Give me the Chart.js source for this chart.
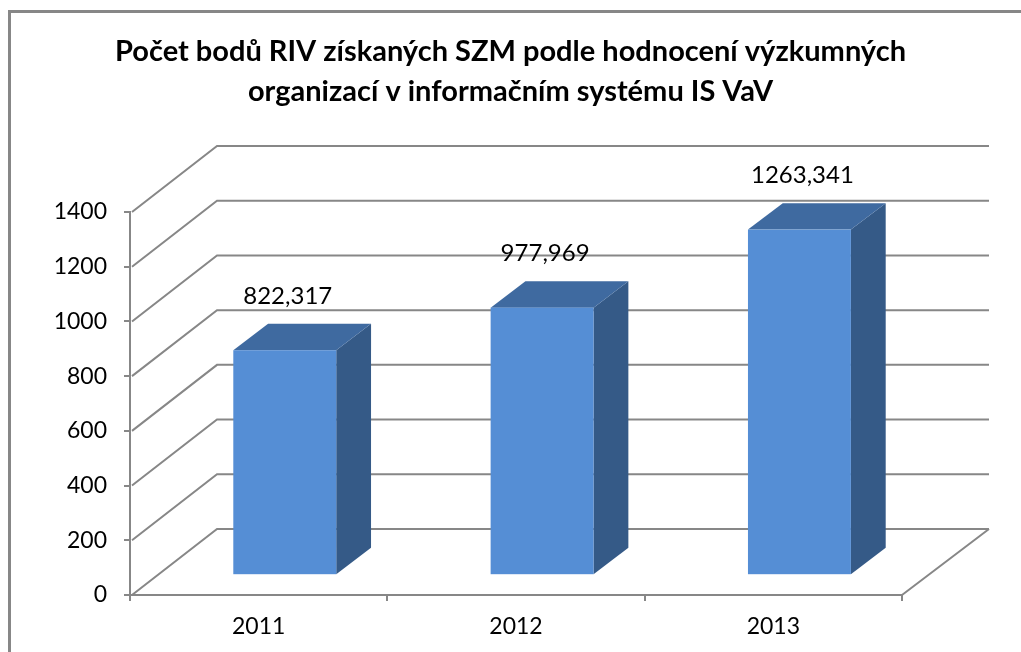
<!DOCTYPE html>
<html>
<head>
<meta charset="utf-8">
<script src="https://cdn.jsdelivr.net/npm/chart.js@4.4.1/dist/chart.umd.min.js"></script>
<style>
  html, body { margin: 0; padding: 0; background: #fff; }
  #wrap { width: 1021px; height: 652px; }
</style>
</head>
<body>
<div id="wrap"><canvas id="barChart" width="1021" height="652"></canvas></div>
<script>
// Data <-------------------------------------------------------------->
const titleLines = ['Počet bodů RIV získaných SZM podle hodnocení výzkumných', 'organizací v informačním systému IS VaV'];
const years = ['2011', '2012', '2013'];
const points = [822.317, 977.969, 1263.341];
const yTicks = [0, 200, 400, 600, 800, 1000, 1200, 1400];

// 3D look (Excel style) <---------------------------------------------->
const DEPTH_X = 87;   // full depth of the floor/walls
const DEPTH_Y = -66;
const BAR_FRONT = 0.3; // bars sit in the middle of the depth
const BAR_BACK = 0.7;
const GRID = '#878787';
const FRONT = '#558ed5';
const TOP = '#3f6aa0';
const SIDE = '#355a87';
const FONT = 'Lato, "Open Sans", sans-serif';

const threeD = {
    id: 'threeD',
    beforeDatasetsDraw(chart) {
        const ctx = chart.ctx;
        const { left, right, bottom } = chart.chartArea;
        const y = chart.scales.y;
        ctx.save();
        ctx.strokeStyle = GRID;
        ctx.lineWidth = 2;
        ctx.beginPath();
        yTicks.forEach(v => {
            const py = y.getPixelForValue(v);
            ctx.moveTo(left + 2, py);
            ctx.lineTo(left + DEPTH_X, py + DEPTH_Y);
            ctx.lineTo(right + DEPTH_X, py + DEPTH_Y);
        });
        // right edge of the floor
        ctx.moveTo(right, bottom);
        ctx.lineTo(right + DEPTH_X, bottom + DEPTH_Y);
        ctx.stroke();
        ctx.restore();
    },
    afterDatasetsDraw(chart) {
        const ctx = chart.ctx;
        const meta = chart.getDatasetMeta(0);
        const fx = DEPTH_X * BAR_FRONT, fy = DEPTH_Y * BAR_FRONT;
        const dx = DEPTH_X * (BAR_BACK - BAR_FRONT), dy = DEPTH_Y * (BAR_BACK - BAR_FRONT);
        ctx.save();
        meta.data.forEach((bar, i) => {
            const x0 = bar.x - bar.width / 2 + fx;
            const x1 = bar.x + bar.width / 2 + fx;
            const yt = bar.y + fy;
            const yb = bar.base + fy;

            // side
            ctx.fillStyle = SIDE;
            ctx.beginPath();
            ctx.moveTo(x1, yt);
            ctx.lineTo(x1 + dx, yt + dy);
            ctx.lineTo(x1 + dx, yb + dy);
            ctx.lineTo(x1, yb);
            ctx.closePath();
            ctx.fill();

            // top
            ctx.fillStyle = TOP;
            ctx.beginPath();
            ctx.moveTo(x0, yt);
            ctx.lineTo(x0 + dx, yt + dy);
            ctx.lineTo(x1 + dx, yt + dy);
            ctx.lineTo(x1, yt);
            ctx.closePath();
            ctx.fill();

            // front
            ctx.fillStyle = FRONT;
            ctx.fillRect(x0, yt, x1 - x0, yb - yt);

            // value label
            ctx.fillStyle = '#000';
            ctx.font = '24px ' + FONT;
            ctx.textAlign = 'center';
            ctx.textBaseline = 'middle';
            ctx.fillText(String(points[i]).replace('.', ','), (x0 + x1) / 2 + 3, yt + dy - 28);
        });
        ctx.restore();
    },
    afterDraw(chart) {
        // outer frame (cut by the window on right and bottom)
        const ctx = chart.ctx;
        ctx.save();
        ctx.strokeStyle = GRID;
        ctx.lineWidth = 3;
        ctx.beginPath();
        ctx.moveTo(9.5, 700);
        ctx.lineTo(9.5, 11.5);
        ctx.lineTo(1100, 11.5);
        ctx.stroke();
        ctx.restore();
    }
};

const ctx = document.getElementById('barChart').getContext('2d');

new Chart(ctx, {
    type: 'bar',
    data: {
        labels: years,
        datasets: [{
            data: points,
            backgroundColor: 'rgba(0,0,0,0)',
            borderWidth: 0,
            categoryPercentage: 0.5,
            barPercentage: 0.8
        }]
    },
    options: {
        responsive: false,
        animation: false,
        layout: { padding: 0 },
        plugins: {
            legend: { display: false },
            tooltip: { enabled: false },
            title: {
                display: true,
                text: titleLines,
                color: '#000',
                font: { family: FONT, size: 29, weight: 'bold', lineHeight: 40 / 29 },
                padding: { top: 32, bottom: 100 }
            }
        },
        scales: {
            x: {
                afterFit(scale) { scale.height = 57; },
                grid: { drawOnChartArea: false, color: GRID, lineWidth: 2, tickLength: 6 },
                border: { color: GRID, width: 2 },
                ticks: { color: '#000', font: { family: FONT, size: 23 }, padding: 12 }
            },
            y: {
                min: 0,
                max: 1400,
                afterFit(scale) { scale.width = 130; },
                afterBuildTicks(scale) { scale.ticks = yTicks.map(v => ({ value: v })); },
                grid: { drawOnChartArea: false, color: GRID, lineWidth: 2, tickLength: 6 },
                border: { color: GRID, width: 2 },
                ticks: {
                    color: '#000',
                    font: { family: FONT, size: 23 },
                    padding: 17,
                    callback: v => String(v)
                }
            },
            // empty space on the right, where the 3D depth goes
            rightSpace: {
                type: 'linear',
                position: 'right',
                afterFit(scale) { scale.width = 119; },
                ticks: { display: false },
                grid: { display: false },
                border: { display: false }
            }
        }
    },
    plugins: [threeD]
});
</script>
</body>
</html>
